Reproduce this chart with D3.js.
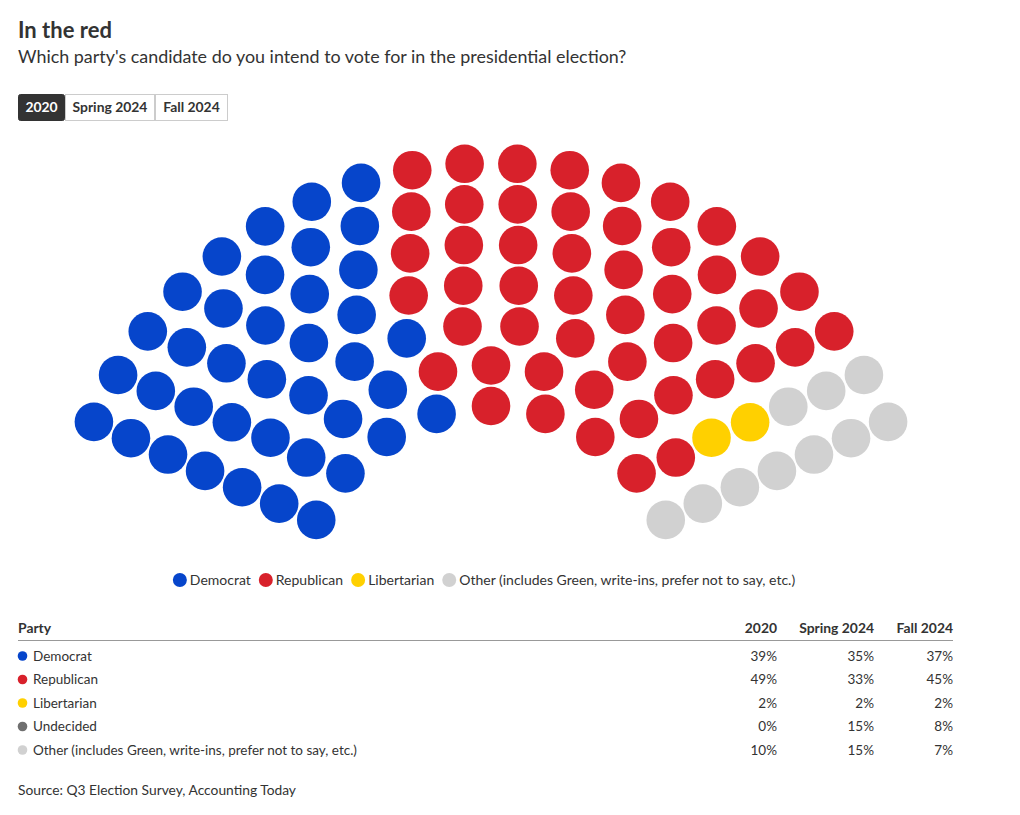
<!DOCTYPE html>
<html>
<head>
<meta charset="utf-8">
<script src="https://cdn.jsdelivr.net/npm/d3@7"></script>
<style>
  html, body { margin: 0; padding: 0; background: #fff; }
  body { font-family: Lato, "Open Sans", sans-serif; color: #333; }
</style>
</head>
<body>
<svg id="chart" width="1020" height="815"></svg>
<script>
// ---- data ----
const parties = ["Democrat", "Republican", "Libertarian", "Undecided", "Other (includes Green, write-ins, prefer not to say, etc.)"];
const partyColors = ["#0645cb", "#d8212b", "#ffd000", "#6f6f6f", "#d1d1d1"];
const periods = ["2020", "Spring 2024", "Fall 2024"];
const values2020 = [39, 49, 2, 0, 10];
const valuesSpring2024 = [35, 33, 2, 15, 15];
const valuesFall2024 = [37, 45, 2, 8, 7];
const seatsPerRow = [9, 11, 12, 14, 16, 18, 20];
const title = "In the red";
const subtitle = "Which party's candidate do you intend to vote for in the presidential election?";
const source = "Source: Q3 Election Survey, Accounting Today";

const tableValues = [values2020, valuesSpring2024, valuesFall2024];
const active = values2020;

const svg = d3.select("#chart");
const font = "Lato, 'Open Sans', sans-serif";

// ---- header ----
svg.append("text").attr("x", 18).attr("y", 38).attr("font-family", font)
  .attr("font-weight", 700).attr("font-size", 22).attr("fill", "#333").text(title);
svg.append("text").attr("x", 18).attr("y", 63).attr("font-family", font)
  .attr("font-size", 17.9).attr("fill", "#333").text(subtitle);

// ---- buttons ----
const btnX = [18, 65, 155, 228];
const btn = svg.append("g");
periods.forEach((p, i) => {
  const x0 = btnX[i], x1 = btnX[i + 1];
  btn.append("rect").attr("x", x0 + 0.5).attr("y", 94.5).attr("width", x1 - x0 - 1).attr("height", 26)
    .attr("rx", i === 0 ? 2 : 0)
    .attr("fill", i === 0 ? "#333" : "#fff").attr("stroke", i === 0 ? "#333" : "#ccc");
  btn.append("text").attr("x", (x0 + x1) / 2).attr("y", 107.5).attr("dy", "0.35em")
    .attr("text-anchor", "middle").attr("font-family", font).attr("font-weight", 700)
    .attr("font-size", 13.9).attr("fill", i === 0 ? "#fff" : "#333").text(p);
});

// ---- parliament ----
const cx = 491, cy = 597;
const rScale = d3.scaleLinear().domain([0, seatsPerRow.length - 1]).range([191, 434]);
const seats = [];
seatsPerRow.forEach((n, row) => {
  const aScale = d3.scaleLinear().domain([0, n - 1]).range([156.2, 23.8]);
  d3.range(n).forEach(k => {
    const a = aScale(k) * Math.PI / 180;
    const r = rScale(row);
    seats.push({ angle: aScale(k), row, x: cx + r * Math.cos(a), y: cy - r * Math.sin(a) });
  });
});
seats.sort((a, b) => d3.descending(a.angle, b.angle) || d3.ascending(a.row, b.row));
const cum = d3.cumsum(active);
seats.forEach((s, i) => {
  s.party = cum.findIndex(c => i < c);
});
svg.append("g").selectAll("circle").data(seats).join("circle")
  .attr("cx", d => d.x).attr("cy", d => d.y).attr("r", 19.3)
  .attr("fill", d => partyColors[d.party]);

// ---- legend ----
const legendItems = parties.map((p, i) => ({ p, i })).filter(d => active[d.i] > 0);
const legend = svg.append("g");
let lx = 0;
const items = [];
legendItems.forEach(d => {
  const g = legend.append("g");
  g.append("circle").attr("cx", 7).attr("cy", 0).attr("r", 7).attr("fill", partyColors[d.i]);
  const t = g.append("text").attr("x", 17).attr("y", 0).attr("dy", "0.35em")
    .attr("font-family", font).attr("font-size", 14).attr("fill", "#333").text(d.p);
  const w = 17 + t.node().getComputedTextLength();
  items.push({ g, x: lx });
  lx += w + 8;
});
const totalW = lx - 8;
const startX = 484 - totalW / 2;
items.forEach(it => it.g.attr("transform", `translate(${startX + it.x},580)`));

// ---- table ----
const colRight = [777, 874, 953];
const tbl = svg.append("g");
tbl.append("text").attr("x", 18).attr("y", 628).attr("dy", "0.35em").attr("font-family", font)
  .attr("font-weight", 700).attr("font-size", 13.9).attr("fill", "#333").text("Party");
periods.forEach((p, j) => {
  tbl.append("text").attr("x", colRight[j]).attr("y", 628).attr("dy", "0.35em").attr("text-anchor", "end")
    .attr("font-family", font).attr("font-weight", 700).attr("font-size", 13.9).attr("fill", "#333").text(p);
});
tbl.append("line").attr("x1", 18).attr("x2", 953).attr("y1", 640.5).attr("y2", 640.5)
  .attr("stroke", "#999").attr("stroke-width", 1);
const rowY = d3.scaleLinear().domain([0, 4]).range([656, 750]);
parties.forEach((p, i) => {
  const y = rowY(i);
  tbl.append("circle").attr("cx", 22.5).attr("cy", y).attr("r", 4.8).attr("fill", partyColors[i]);
  tbl.append("text").attr("x", 33).attr("y", y).attr("dy", "0.35em").attr("font-family", font)
    .attr("font-size", 13.5).attr("fill", "#333").text(p);
  tableValues.forEach((vals, j) => {
    tbl.append("text").attr("x", colRight[j]).attr("y", y).attr("dy", "0.35em").attr("text-anchor", "end")
      .attr("font-family", font).attr("font-size", 13.5).attr("fill", "#333").text(vals[i] + "%");
  });
});

// ---- source ----
svg.append("text").attr("x", 18).attr("y", 790).attr("dy", "0.35em").attr("font-family", font)
  .attr("font-size", 13.8).attr("fill", "#333").text(source);
</script>
</body>
</html>
